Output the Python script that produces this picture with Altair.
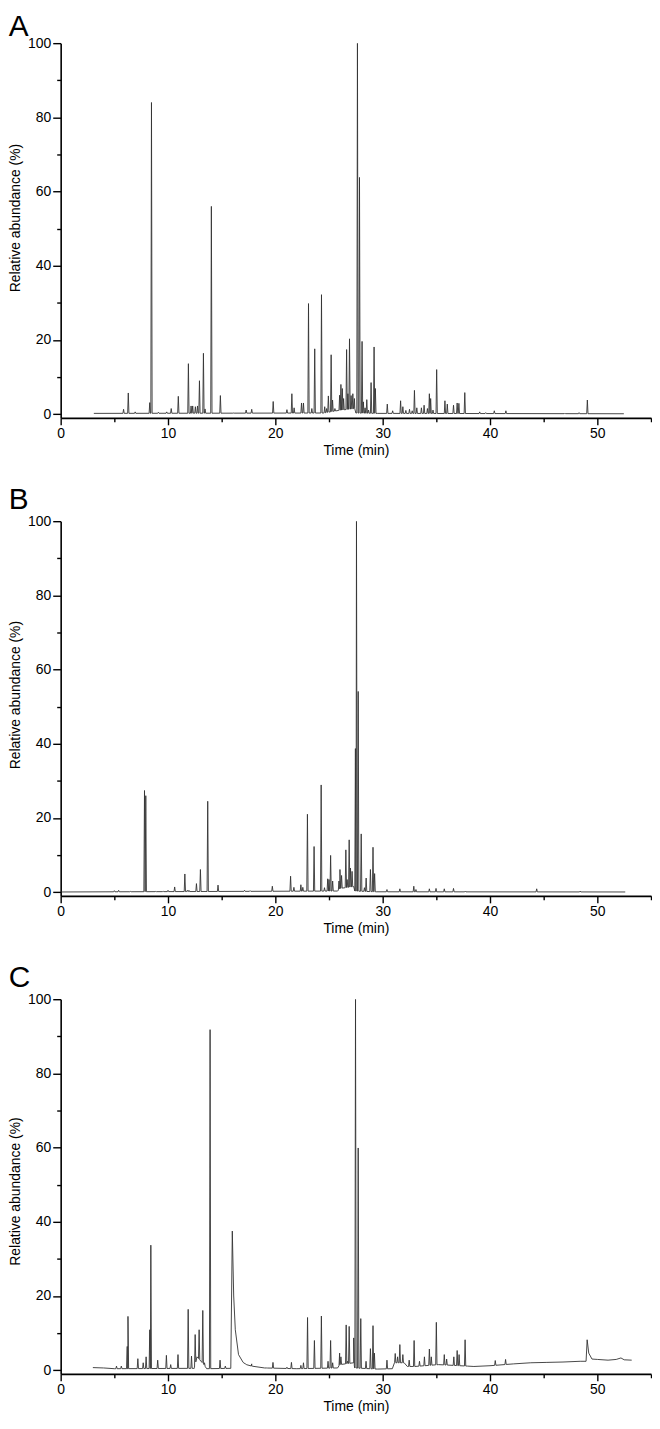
import altair as alt
import numpy as np
import pandas as pd

# ---------------- Panel A ----------------
A_peak_t = [5.86, 6.30, 6.94, 8.30, 8.46, 9.10, 9.88, 10.30, 10.96, 11.90, 12.15, 12.30, 12.55, 12.75,
            12.93, 13.30, 13.45, 14.04, 14.88, 16.10, 17.28, 17.80, 19.80, 21.08, 21.54, 21.75, 22.44,
            22.62, 23.09, 23.40, 23.67, 24.30, 24.60, 24.78, 24.94, 25.20, 25.33, 25.55, 25.99, 26.11,
            26.24, 26.36, 26.64, 26.76, 26.91, 27.06, 27.22, 27.37, 27.65, 27.84, 28.08, 28.20, 28.36,
            28.52, 28.68, 28.92, 29.20, 29.32, 30.43, 30.93, 31.67, 31.88, 32.16, 32.50, 32.75, 32.96,
            33.18, 33.61, 33.86, 34.17, 34.35, 34.47, 34.69, 35.03, 35.80, 36.02, 36.60, 36.94, 37.10,
            37.65, 39.04, 39.60, 40.40, 41.48, 46.97, 48.30, 49.07]
A_peak_h = [1.3, 5.7, 0.6, 3.1, 84.0, 0.5, 0.6, 1.5, 4.8, 13.6, 2.2, 2.2, 2.0, 2.2,
            9.0, 16.4, 1.4, 56.0, 5.0, 0.3, 1.1, 1.3, 3.4, 1.2, 5.5, 1.7, 3.0,
            3.0, 29.8, 1.5, 17.6, 32.2, 2.0, 1.5, 4.9, 16.0, 3.8, 1.5, 5.1, 8.0,
            6.9, 4.2, 17.4, 5.5, 20.3, 5.0, 5.5, 4.2, 100.0, 63.8, 19.6, 3.3, 1.7,
            3.9, 1.1, 8.5, 18.1, 6.9, 2.7, 0.9, 3.6, 2.0, 1.0, 1.3, 0.9, 6.4,
            1.7, 1.7, 2.4, 1.5, 5.5, 4.2, 1.1, 12.0, 3.6, 2.7, 2.4, 3.0, 2.9,
            5.8, 0.6, 0.4, 0.9, 0.9, 0.3, 0.4, 3.8]
A_base_t = [3.09, 24.5, 25.9, 27.4, 27.5, 29.5, 52.47]
A_base_v = [0.2, 0.3, 1.0, 1.5, 0.3, 0.2, 0.1]

# ---------------- Panel B ----------------
B_peak_t = [5.00, 5.40, 6.50, 7.81, 7.93, 8.86, 9.54, 10.00, 10.62, 11.57, 11.80, 11.95, 12.65, 13.02,
            13.70, 14.66, 17.13, 17.65, 19.72, 21.42, 21.73, 22.38, 22.56, 22.99, 23.61, 24.27, 24.58,
            24.88, 25.00, 25.15, 25.34, 25.93, 26.02, 26.17, 26.57, 26.69, 26.88, 27.00, 27.15, 27.46,
            27.56, 27.72, 28.00, 28.30, 28.46, 28.86, 29.10, 29.25, 30.40, 31.60, 32.90, 33.10, 34.35,
            34.97, 35.74, 36.60, 37.70, 44.35, 48.40]
B_peak_h = [0.4, 0.5, 0.2, 27.4, 26.0, 0.2, 0.3, 0.5, 1.4, 4.9, 0.5, 0.5, 2.3, 6.1,
            24.5, 1.9, 0.5, 0.4, 1.6, 4.3, 1.3, 2.0, 1.3, 21.0, 12.3, 28.9, 1.2,
            3.6, 3.4, 9.9, 3.0, 3.0, 6.1, 4.5, 11.4, 3.4, 14.1, 6.5, 5.6, 38.7,
            100.0, 54.1, 15.7, 1.2, 3.8, 6.1, 12.1, 5.0, 0.7, 0.9, 1.6, 0.7, 0.9,
            1.0, 0.9, 1.0, 0.3, 0.9, 0.3]
B_base_t = [0.05, 25.8, 26.0, 27.3, 27.4, 29.4, 52.6]
B_base_v = [0.05, 0.3, 1.0, 1.5, 0.3, 0.1, 0.05]

# ---------------- Panel C ----------------
C_peak_t = [5.20, 5.65, 6.20, 6.27, 7.19, 7.69, 7.96, 8.30, 8.40, 9.04, 9.85, 10.25, 10.93, 11.88,
            12.19, 12.53, 12.90, 13.24, 13.40, 13.92, 14.85, 15.34, 17.25, 17.80, 19.20, 19.78, 21.08,
            21.50, 22.38, 22.62, 23.00, 23.64, 24.29, 24.91, 25.15, 25.34, 25.99, 26.11, 26.60, 26.72,
            26.88, 27.30, 27.47, 27.72, 27.96, 28.45, 28.86, 29.10, 29.23, 30.40, 31.17, 31.39, 31.60,
            31.88, 32.47, 32.93, 33.43, 33.89, 34.35, 34.53, 35.00, 35.74, 35.96, 36.63, 36.94, 37.12,
            37.68, 40.49, 41.45]
C_peak_h = [1.1, 1.1, 6.4, 14.5, 3.1, 2.0, 3.6, 10.9, 33.7, 2.7, 4.0, 1.5, 4.2, 16.4,
            3.8, 9.6, 10.9, 16.1, 2.0, 91.8, 2.7, 1.1, 1.7, 1.7, 0.6, 2.1, 0.8,
            2.1, 1.3, 2.0, 14.2, 8.0, 14.6, 2.4, 8.0, 2.0, 4.6, 3.6, 12.2, 2.4,
            11.8, 8.7, 100.0, 59.9, 13.9, 2.4, 5.8, 12.0, 4.6, 2.7, 4.5, 3.6, 6.9,
            4.2, 2.7, 8.0, 2.4, 3.6, 5.7, 3.6, 12.9, 4.2, 3.0, 3.6, 5.3, 4.2,
            8.2, 2.6, 2.9]
C_base_t = [3.0, 4.0, 5.0, 12.45, 12.70, 13.08, 13.35, 13.60, 15.85, 15.99, 16.12, 16.27, 16.57, 17.0,
            17.3, 17.8, 19.0, 22.0, 25.8, 26.0, 27.3, 27.4, 29.5, 30.9, 31.1, 32.0, 32.3, 33.0,
            35.2, 37.9, 38.5, 40.0, 42.2, 43.8, 45.3, 46.8, 48.4, 48.95, 49.05, 49.2, 49.5, 50.0,
            51.0, 51.76, 52.2, 52.5, 53.2]
C_base_v = [0.7, 0.6, 0.4, 0.5, 3.6, 2.4, 1.5, 0.4, 0.5, 37.5, 20.0, 10.9, 4.2, 2.1,
            1.5, 1.1, 0.6, 0.4, 0.6, 1.5, 2.0, 0.6, 0.3, 0.4, 2.0, 2.0, 1.0, 1.0,
            1.5, 1.1, 1.0, 1.2, 1.7, 2.0, 2.1, 2.2, 2.4, 2.4, 8.2, 4.6, 3.0, 2.9,
            2.7, 2.9, 3.3, 2.8, 2.7]

labels = ["A", "B", "C"]
title_y = [175.5, 174.5, 193.0]
title_offset = [-6, -1, -1]
HW = 0.06


def build(peak_t, peak_h, base_t, base_v):
    ts = list(base_t)
    vs = list(base_v)
    for t, h in zip(peak_t, peak_h):
        for dt in (-HW, HW):
            ts.append(t + dt)
            vs.append(float(np.interp(t + dt, base_t, base_v)))
        ts.append(t)
        vs.append(h)
    return pd.DataFrame({"time": ts, "abund": vs}).sort_values("time")


frames = [build(A_peak_t, A_peak_h, A_base_t, A_base_v),
          build(B_peak_t, B_peak_h, B_base_t, B_base_v),
          build(C_peak_t, C_peak_h, C_base_t, C_base_v)]

FONT = "Liberation Sans"


def panel(df, label, ty, off):
    xaxis = alt.Axis(
        title="Time (min)", values=list(range(0, 56, 5)),
        labelExpr="datum.value % 10 === 0 ? datum.label : ''",
        tickSize={"condition": {"test": "datum.value % 10 === 0", "value": 7}, "value": 4},
        labelOverlap=False, labelFlush=False, grid=False,
        labelPadding=2, titlePadding=3,
        labelFont=FONT, labelFontSize=14, titleFont=FONT, titleFontSize=14,
        titleFontWeight="normal", labelColor="black", titleColor="black",
    )
    yaxis = alt.Axis(
        title="Relative abundance (%)", values=list(range(0, 101, 10)),
        labelExpr="datum.value % 20 === 0 ? datum.label : ''",
        tickSize={"condition": {"test": "datum.value % 20 === 0", "value": 8}, "value": 4},
        labelOverlap=False, labelFlush=False, grid=False,
        labelPadding=2, titlePadding=5, titleY=ty,
        labelFont=FONT, labelFontSize=14, titleFont=FONT, titleFontSize=14,
        titleFontWeight="normal", labelColor="black", titleColor="black",
    )
    return alt.Chart(df).mark_line(color="#333333", strokeWidth=0.9, clip=True).encode(
        x=alt.X("time:Q", scale=alt.Scale(domain=[0, 55], nice=False, zero=False), axis=xaxis),
        y=alt.Y("abund:Q", scale=alt.Scale(domain=[-1, 100], nice=False, zero=False), axis=yaxis),
    ).properties(
        width=594, height=377,
        title=alt.TitleParams(label, anchor="start", frame="bounds", fontSize=30,
                              fontWeight="normal", font=FONT, color="black", offset=off),
    )


chart = alt.vconcat(*[panel(df, lab, ty, off) for df, lab, ty, off
                      in zip(frames, labels, title_y, title_offset)],
                    spacing=28).properties(
    padding={"left": 0, "top": 0, "right": 0, "bottom": 0},
    background="white",
).configure_view(stroke=None).configure_axis(
    domainColor="black", domainWidth=1.6, tickColor="black", tickWidth=1.4,
)

chart.save("out.html", embed_options={"renderer": "svg", "actions": False})
